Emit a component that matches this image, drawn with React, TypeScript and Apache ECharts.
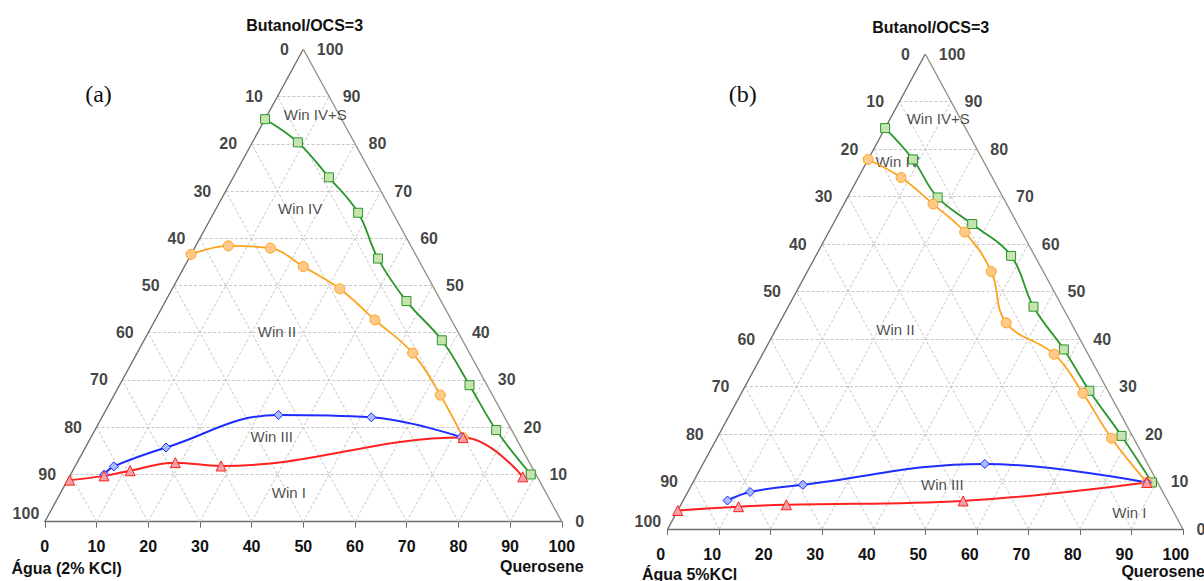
import React, { useEffect, useRef } from "react";
import * as echarts from "echarts";

// ---------- tick labels ----------
const TICKS = [0, 10, 20, 30, 40, 50, 60, 70, 80, 90, 100];

// ---------- panel (a): Água (2% KCl) ----------  (Querosene %, Butanol/OCS %)
const aGreenQ = [0, 8.8, 18.5, 27.9, 36.6, 46.6, 57.6, 67.7, 77.6, 89.0];
const aGreenB = [85.2, 80.3, 72.9, 65.4, 55.7, 46.7, 38.4, 28.9, 19.4, 10.0];
const aOrangeQ = [0, 6.3, 14.7, 23.0, 32.4, 42.5, 53.3, 63.1, 72.0];
const aOrangeB = [56.6, 58.4, 57.9, 54.0, 49.3, 42.7, 35.7, 26.8, 17.8];
const aBlueQ = [6.5, 7.5, 15.6, 33.9, 52.1, 71.6];
const aBlueB = [10.0, 11.7, 15.7, 22.6, 22.1, 17.9];
const aRedQ = [0.4, 6.6, 11.1, 19.0, 28.2, 72.0, 87.7];
const aRedB = [8.8, 9.7, 10.8, 12.5, 11.8, 17.8, 9.5];

// ---------- panel (b): Água 5%KCl ----------
const bGreenQ = [0, 8.7, 17.5, 27.0, 37.9, 47.6, 58.0, 67.3, 78.3, 89.1];
const bGreenB = [84.4, 77.8, 69.8, 64.2, 57.5, 46.8, 37.8, 29.1, 19.6, 9.8];
const bOrangeQ = [0, 8.3, 17.3, 26.4, 35.7, 44.0, 56.6, 66.3, 76.6, 88.1];
const bOrangeB = [77.8, 74.0, 68.4, 62.5, 54.2, 43.4, 36.8, 28.6, 19.1, 9.8];
const bBlueQ = [8.6, 12.1, 21.6, 54.7, 88.1];
const bBlueB = [6.0, 7.8, 9.3, 13.7, 9.8];
const bRedQ = [0, 11.4, 20.5, 54.4, 88.1];
const bRedB = [3.9, 4.7, 5.1, 5.9, 9.8];

// ---------- texts ----------
const REGION_NAMES = ["Win IV+S", "Win IV", "Win II", "Win III", "Win I"];
const TITLE = "Butanol/OCS=3";
const A_TAG = "(a)";
const B_TAG = "(b)";
const A_WATER = "Água (2% KCl)";
const B_WATER = "Água 5%KCl";
const OIL = "Querosene";

// layout (plot units: x along base %, y height %)
const aRegionPos = [[52.3, 86.1], [49.4, 66.2], [44.9, 40.2], [43.9, 18.0], [47.2, 6.1]];
const bRegionPos = [[52.5, 86.5], [44.6, 77.3], [44.2, 42.0], [53.3, 9.3], [89.6, 3.4]];

const FONT = '"Liberation Sans", Arial, sans-serif';

function tern(q: number, b: number): number[] {
  return [q + b / 2, b];
}

const COLORS = {
  green: { line: "#2a962a", fill: "#c6e3b0" },
  orange: { line: "#ffa21c", fill: "#ffc98a" },
  blue: { line: "#1f2cff", fill: "#a9bbff" },
  red: { line: "#ff2020", fill: "#f5a3a8" },
};

type PanelCfg = {
  grid: any;
  green: [number[], number[]];
  orange: [number[], number[]];
  blue: [number[], number[]];
  red: [number[], number[]];
  regions: number[][];
  leftDist: number;
  rightDist: number;
  bottomShift: number;
};

const PANELS: PanelCfg[] = [
  {
    grid: { left: 44.8, top: 49.3, width: 517, height: 472.4 },
    green: [aGreenQ, aGreenB],
    orange: [aOrangeQ, aOrangeB],
    blue: [aBlueQ, aBlueB],
    red: [aRedQ, aRedB],
    regions: aRegionPos,
    leftDist: 14,
    rightDist: 13,
    bottomShift: 0,
  },
  {
    grid: { left: 667.7, top: 54, width: 515.2, height: 475 },
    green: [bGreenQ, bGreenB],
    orange: [bOrangeQ, bOrangeB],
    blue: [bBlueQ, bBlueB],
    red: [bRedQ, bRedB],
    regions: bRegionPos,
    leftDist: 15,
    rightDist: 13,
    bottomShift: 14,
  },
];

function buildOption() {
  const grid: any[] = [];
  const xAxis: any[] = [];
  const yAxis: any[] = [];
  const series: any[] = [];

  PANELS.forEach((p, i) => {
    grid.push({ ...p.grid, containLabel: false });
    xAxis.push({
      gridIndex: i,
      type: "value",
      min: 0,
      max: 100,
      interval: 10,
      axisLine: { show: true, lineStyle: { color: "#6e6e6e", width: 1.3 } },
      axisTick: { show: true, inside: false, length: 6, lineStyle: { color: "#6e6e6e", width: 1 } },
      axisLabel: {
        margin: 17,
        fontSize: 16,
        fontWeight: "bold",
        fontFamily: FONT,
        color: "#111",
        padding: [0, p.bottomShift, 0, 0],
      },
      splitLine: { show: false },
    });
    yAxis.push({ gridIndex: i, type: "value", min: 0, max: 100, show: false });

    // dashed internal grid
    const gl: any[] = [];
    TICKS.slice(1, -1).forEach((t) => {
      gl.push({ coords: [tern(0, t), tern(100 - t, t)] }); // horizontal (butanol const)
      gl.push({ coords: [tern(t, 0), tern(t, 100 - t)] }); // querosene const
      gl.push({ coords: [tern(100 - t, 0), tern(0, 100 - t)] }); // água const
    });
    series.push({
      type: "lines",
      coordinateSystem: "cartesian2d",
      xAxisIndex: i,
      yAxisIndex: i,
      silent: true,
      z: 1,
      lineStyle: { color: "#c6c6c6", width: 1, type: [3, 2], opacity: 1 },
      data: gl,
    });
    // triangle edges
    series.push({
      type: "lines",
      coordinateSystem: "cartesian2d",
      xAxisIndex: i,
      yAxisIndex: i,
      silent: true,
      z: 2,
      data: [
        { coords: [tern(0, 0), tern(0, 100)], lineStyle: { color: "#6b6b6b", width: 1.3, opacity: 1 } },
        { coords: [tern(0, 100), tern(100, 0)], lineStyle: { color: "#8f8f7e", width: 1.3, opacity: 1 } },
      ],
    });

    const labelBase = {
      show: true,
      formatter: "{b}",
      fontSize: 16,
      fontWeight: "bold",
      fontFamily: FONT,
      color: "#111",
    };
    // left tick labels (Água along left edge)
    series.push({
      type: "scatter",
      xAxisIndex: i,
      yAxisIndex: i,
      symbolSize: 1,
      silent: true,
      itemStyle: { color: "rgba(0,0,0,0)" },
      label: { ...labelBase, position: "left", distance: p.leftDist },
      data: TICKS.map((a) => {
        const item: any = { name: String(a), value: tern(0, 100 - a) };
        if (a === 100) item.label = { offset: [9, -8] };
        return item;
      }),
    });
    // right tick labels (Butanol along right edge)
    series.push({
      type: "scatter",
      xAxisIndex: i,
      yAxisIndex: i,
      symbolSize: 1,
      silent: true,
      itemStyle: { color: "rgba(0,0,0,0)" },
      label: { ...labelBase, position: "right", distance: p.rightDist },
      data: TICKS.map((b) => ({ name: String(b), value: tern(100 - b, b) })),
    });
    // region labels
    series.push({
      type: "scatter",
      xAxisIndex: i,
      yAxisIndex: i,
      symbolSize: 1,
      silent: true,
      z: 3,
      itemStyle: { color: "rgba(0,0,0,0)" },
      label: {
        show: true,
        formatter: "{b}",
        position: "inside",
        fontSize: 15,
        fontFamily: FONT,
        color: "#1c1c1c",
      },
      data: REGION_NAMES.map((n, k) => ({ name: n, value: p.regions[k] })),
    });

    const mk = (pair: [number[], number[]], c: { line: string; fill: string }, symbol: string, size: number, w: number) => ({
      type: "line",
      xAxisIndex: i,
      yAxisIndex: i,
      smooth: 0.4,
      symbol,
      symbolSize: size,
      showAllSymbol: true,
      z: 5,
      lineStyle: { color: c.line, width: w },
      itemStyle: { color: c.fill, borderColor: c.line, borderWidth: 1 },
      data: pair[0].map((q, k) => tern(q, pair[1][k])),
    });
    series.push(mk(p.green, COLORS.green, "rect", 9, 1.8));
    series.push(mk(p.orange, COLORS.orange, "circle", 10, 1.8));
    series.push(mk(p.blue, COLORS.blue, "diamond", 9, 2));
    series.push(mk(p.red, COLORS.red, "triangle", 10, 2));
  });

  const txt = (text: string, x: number, y: number, font: string, align = "center") => ({
    type: "text",
    x,
    y,
    silent: true,
    style: {
      text,
      font,
      fill: "#111",
      textAlign: align,
      textVerticalAlign: "middle",
      align,
      verticalAlign: "middle",
    },
  });
  const bold = `bold 16px ${FONT}`;
  const serif = '24px "Liberation Serif", "Times New Roman", serif';
  const graphic = [
    txt(TITLE, 304.6, 25, bold),
    txt(TITLE, 930.7, 27.7, bold),
    txt(A_TAG, 98.5, 94.3, serif),
    txt(B_TAG, 742.7, 94.3, serif),
    txt(A_WATER, 11.5, 568, bold, "left"),
    txt(OIL, 583.6, 566, bold, "right"),
    txt(B_WATER, 642, 574, bold, "left"),
    txt(OIL, 1205, 571.7, bold, "right"),
  ];

  return {
    animation: false,
    backgroundColor: "#ffffff",
    grid,
    xAxis,
    yAxis,
    series,
    graphic,
  };
}

export default function App() {
  const ref = useRef<HTMLDivElement>(null);
  useEffect(() => {
    if (!ref.current) return;
    const chart = echarts.init(ref.current, undefined, { renderer: "svg" });
    chart.setOption(buildOption() as any);
    return () => chart.dispose();
  }, []);
  return (
    <div
      ref={ref}
      style={{ position: "fixed", left: 0, top: 0, width: 1204, height: 581, background: "#fff" }}
    />
  );
}
